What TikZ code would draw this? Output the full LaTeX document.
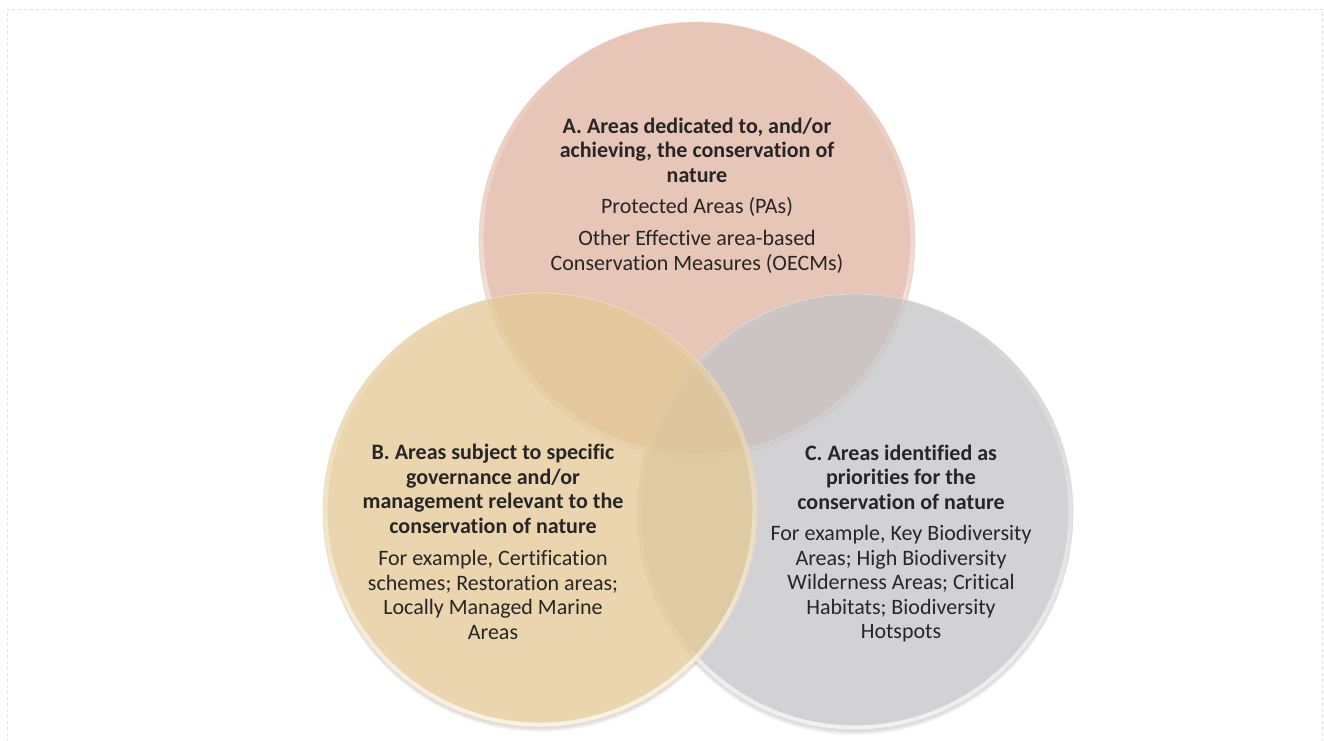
\documentclass[tikz,border=0pt]{standalone}
\usepackage{fontspec}
\setmainfont{Carlito}[Ligatures=NoCommon]
\usetikzlibrary{calc,fadings}
\definecolor{colA}{RGB}{224,178,160}
\definecolor{colB}{RGB}{227,200,147}
\definecolor{colC}{RGB}{196,196,199}
\definecolor{txt}{RGB}{38,38,38}
\definecolor{frame}{RGB}{225,225,225}
\begin{document}
\begin{tikzpicture}[x=1pt,y=-1pt,
  headtext/.style={font=\fontsize{22}{24.5}\selectfont\bfseries,align=center,text=txt,inner sep=0pt},
  bodytext/.style={font=\fontsize{22}{24.5}\selectfont,align=center,text=txt,inner sep=0pt},
  disc/.style={fill=#1,fill opacity=0.75,draw=#1!50!white,draw opacity=0.8,line width=0.7pt},
  rim/.style={draw=white,line width=4pt,draw opacity=0.7,path fading=north},
  shadowdisc/.style={fill=black,fill opacity=0.03,draw=none}]
\useasboundingbox (0,0) rectangle (1324,740);
% faint dashed frame
\draw[frame,dashed,line width=0.6pt] (7,760) -- (7,9) -- (1322,9) -- (1322,760);

% circle centres
\coordinate (cA) at (697,240);
\coordinate (cB) at (540,510);
\coordinate (cC) at (855,512);

% soft shadows, then a white base so they only show outside the discs
\foreach \d in {1,2,3,4,5}{
  \fill[shadowdisc] ($(cC)+(0,\d)$) circle (218);
  \fill[shadowdisc] ($(cA)+(0,\d)$) circle (218);
  \fill[shadowdisc] ($(cB)+(0,\d)$) circle (217);
}
\fill[white] (cA) circle (218) (cB) circle (217) (cC) circle (218);

% the three overlapping discs
\path[disc=colA] (cA) circle (218);
\path[rim] (cA) circle (215.5);
\path[disc=colC] (cC) circle (218);
\path[rim] (cC) circle (215.5);
\path[disc=colB] (cB) circle (217);
\path[rim] (cB) circle (214.5);

% circle A
\node[headtext] (tA) at (697,150) {A. Areas dedicated to, and/or\\achieving, the conservation of\\nature};
\node[bodytext] (pA1) at (697,207) {Protected Areas (PAs)};
\node[bodytext] (pA2) at (697,252) {Other Effective area-based\\Conservation Measures (OECMs)};

% circle B
\node[headtext] (tB) at (493,489) {B. Areas subject to specific\\governance and/or\\management relevant to the\\conservation of nature};
\node[bodytext] (pB) at (493,595) {For example, Certification\\schemes; Restoration areas;\\Locally Managed Marine\\Areas};

% circle C
\node[headtext] (tC) at (901,477) {C. Areas identified as\\priorities for the\\conservation of nature};
\node[bodytext] (pC) at (901,584) {For example, Key Biodiversity\\Areas; High Biodiversity\\Wilderness Areas; Critical\\Habitats; Biodiversity\\Hotspots};
\end{tikzpicture}
\end{document}
